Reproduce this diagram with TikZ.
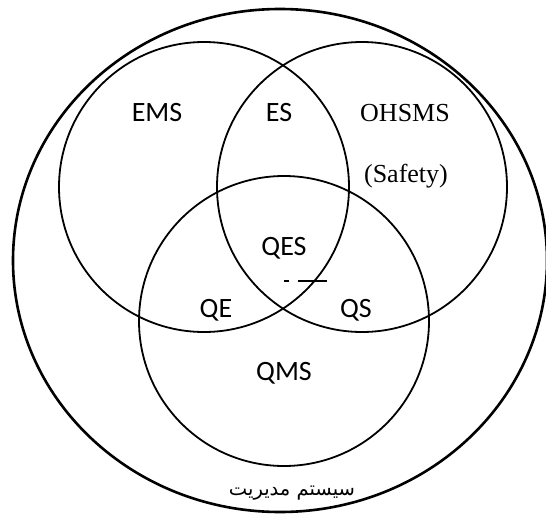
\documentclass[tikz,border=0pt]{standalone}
\usepackage{fontspec}
\setmainfont{Carlito}
\newfontfamily\serifface{Liberation Serif}
\newfontfamily\arabicfont[Script=Arabic]{DejaVu Sans}
\TeXXeTstate=1
\begin{document}
\begin{tikzpicture}[x=1pt,y=-1pt,
  setline/.style={line width=1.8pt},
  outerline/.style={line width=2.6pt},
  lbl/.style={anchor=base,inner sep=0pt,font=\fontsize{28}{28}\selectfont},
  slbl/.style={anchor=base,inner sep=0pt,font=\serifface\fontsize{26}{26}\selectfont},
  plbl/.style={anchor=base,inner sep=0pt,font=\arabicfont\fontsize{19.5}{19.5}\selectfont}]
\useasboundingbox (0,0) rectangle (546,514);
\clip (0,0) rectangle (546,514);
% centres of the sets
\coordinate (all) at (280,260.5);
\coordinate (e) at (204,187);
\coordinate (s) at (362,187);
\coordinate (q) at (284,321);
% whole management system
\draw[outerline] (all) ellipse [x radius=267, y radius=251.5];
% the three systems
\draw[setline] (e) circle [radius=145];
\draw[setline] (s) circle [radius=145];
\draw[setline] (q) circle [radius=145];
% small marks below the common part
\draw[line width=1.1pt] (284,281) -- (289,281);
\draw[line width=1.1pt] (298,281) -- (327,281);
% labels
\node[lbl] (ems) at (157,121) {EMS};
\node[lbl] (es) at (279,121) {ES};
\node[slbl] (ohsms) at (405,121) {OHSMS};
\node[slbl] (safety) at (406,182) {(Safety)};
\node[lbl] (qes) at (284,255) {QES};
\node[lbl] (qe) at (216,317) {QE};
\node[lbl] (qs) at (356,317) {QS};
\node[lbl] (qms) at (284,380) {QMS};
\node[plbl] (ms) at (292,495) {\beginR سیستم مدیریت\endR};
\end{tikzpicture}
\end{document}
